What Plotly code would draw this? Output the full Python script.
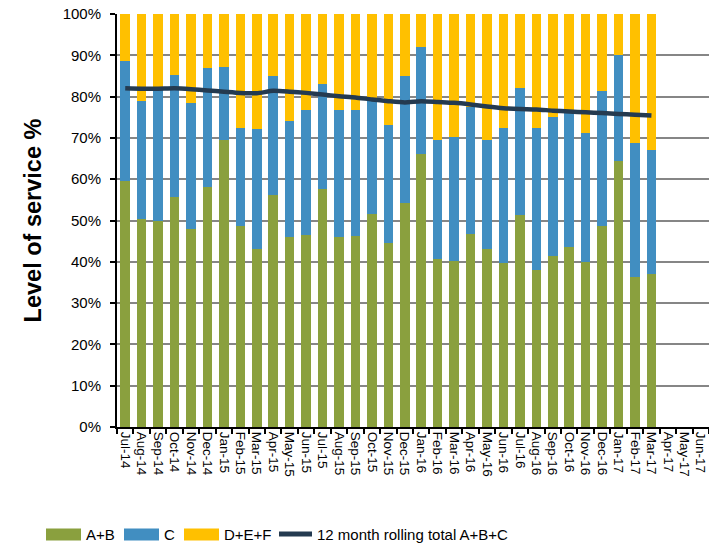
import plotly.graph_objects as go

months = ["Jul-14", "Aug-14", "Sep-14", "Oct-14", "Nov-14", "Dec-14",
          "Jan-15", "Feb-15", "Mar-15", "Apr-15", "May-15", "Jun-15",
          "Jul-15", "Aug-15", "Sep-15", "Oct-15", "Nov-15", "Dec-15",
          "Jan-16", "Feb-16", "Mar-16", "Apr-16", "May-16", "Jun-16",
          "Jul-16", "Aug-16", "Sep-16", "Oct-16", "Nov-16", "Dec-16",
          "Jan-17", "Feb-17", "Mar-17", "Apr-17", "May-17", "Jun-17"]

# Share of service levels (%) per month, Jul-14 .. Mar-17
ab = [59.6, 50.3, 49.9, 55.6, 48.0, 58.0, 69.4, 48.6, 43.1, 56.1, 46.1,
      46.5, 57.6, 46.0, 46.2, 51.6, 44.5, 54.2, 66.2, 40.6, 40.3, 46.7,
      43.2, 39.7, 51.3, 37.9, 41.3, 43.6, 39.9, 48.6, 64.4, 36.4, 37.0]
c = [29.1, 28.6, 31.6, 29.6, 30.5, 29.0, 17.8, 23.8, 29.0, 28.9, 28.0,
     30.3, 25.5, 30.8, 30.6, 27.9, 28.6, 30.8, 25.8, 28.8, 29.9, 30.8,
     26.4, 32.8, 30.8, 34.5, 33.8, 32.4, 31.3, 32.7, 25.7, 32.4, 30.1]
def_ = [11.3, 21.1, 18.5, 14.8, 21.5, 13.0, 12.8, 27.6, 27.9, 15.0, 25.9,
        23.2, 16.9, 23.2, 23.2, 20.5, 26.9, 15.0, 8.0, 30.6, 29.8, 22.5,
        30.4, 27.5, 17.9, 27.6, 24.9, 24.0, 28.8, 18.7, 9.9, 31.2, 32.9]
rolling = [82.0, 81.9, 81.9, 82.0, 81.8, 81.5, 81.2, 80.9, 80.8, 81.4, 81.2,
           80.9, 80.5, 80.1, 79.8, 79.3, 78.9, 78.6, 78.9, 78.7, 78.5, 78.1,
           77.6, 77.2, 77.0, 76.9, 76.6, 76.4, 76.2, 76.0, 75.8, 75.6, 75.4]
legend_names = ["A+B", "C", "D+E+F", "12 month rolling total A+B+C"]

n = len(ab)
x_data = months[:n]

GREEN = "#8AA03E"
BLUE = "#418EC1"
YELLOW = "#FFC000"
NAVY = "#243A50"

W, H = 709, 547
ML, MR, MT, MB = 117, 0, 14, 120
PW, PH = W - ML - MR, H - MT - MB


def px_x(p):
    """pixel column -> paper x"""
    return (p - ML) / PW


def px_y(p):
    """pixel row -> paper y"""
    return (H - MB - p) / PH


fig = go.Figure()
fig.add_bar(x=x_data, y=ab, name=legend_names[0], marker=dict(color=GREEN, line=dict(width=0)))
fig.add_bar(x=x_data, y=c, name=legend_names[1], marker=dict(color=BLUE, line=dict(width=0)))
fig.add_bar(x=x_data, y=def_, name=legend_names[2], marker=dict(color=YELLOW, line=dict(width=0)))
fig.add_scatter(x=x_data, y=rolling, name=legend_names[3],
                mode="lines", line=dict(color=NAVY, width=4.5, shape="spline", smoothing=0.6))

# Legend row below the chart: wide swatches followed by labels
shapes = []
annotations = []
swatches = [(46, 81, GREEN, 84), (124, 159, BLUE, 162), (184, 219, YELLOW, 222)]
for (x0, x1, col, tx), name in zip(swatches, legend_names[:3]):
    shapes.append(dict(type="rect", xref="paper", yref="paper",
                       x0=px_x(x0), x1=px_x(x1), y0=px_y(540.5), y1=px_y(528.5),
                       fillcolor=col, line=dict(width=0)))
    annotations.append(dict(xref="paper", yref="paper", x=px_x(tx), y=px_y(534),
                            xanchor="left", yanchor="middle", showarrow=False,
                            text=name, font=dict(size=15)))
shapes.append(dict(type="line", xref="paper", yref="paper",
                   x0=px_x(279), x1=px_x(312), y0=px_y(534), y1=px_y(534),
                   line=dict(color=NAVY, width=5)))
annotations.append(dict(xref="paper", yref="paper", x=px_x(315), y=px_y(534),
                        xanchor="left", yanchor="middle", showarrow=False,
                        text=legend_names[3], font=dict(size=15)))

fig.update_layout(
    width=W, height=H,
    margin=dict(l=ML, r=MR, t=MT, b=MB),
    paper_bgcolor="white", plot_bgcolor="white",
    barmode="stack", bargap=0.42,
    font=dict(family="Liberation Sans, Arial, sans-serif", size=13, color="black"),
    showlegend=False,
    shapes=shapes,
    annotations=annotations,
    xaxis=dict(type="category", categoryorder="array", categoryarray=months,
               range=[-0.5, len(months) - 0.5],
               tickangle=90, tickson="boundaries", ticks="outside", ticklen=5,
               tickwidth=1.5, tickcolor="black",
               showline=True, linecolor="black", linewidth=2,
               showgrid=False, tickfont=dict(size=13.5)),
    yaxis=dict(range=[0, 100], tickvals=list(range(0, 101, 10)),
               ticktext=[f"{v}%" for v in range(0, 101, 10)],
               ticks="outside", ticklen=5, tickwidth=1.5, tickcolor="black",
               ticklabelstandoff=6,
               showline=True, linecolor="black", linewidth=2,
               showgrid=True, gridcolor="#868686", gridwidth=1.6,
               zeroline=False, tickfont=dict(size=15),
               title=dict(text="<b>Level of service %</b>", font=dict(size=23.5), standoff=14)),
)

fig.write_html("out.html")
